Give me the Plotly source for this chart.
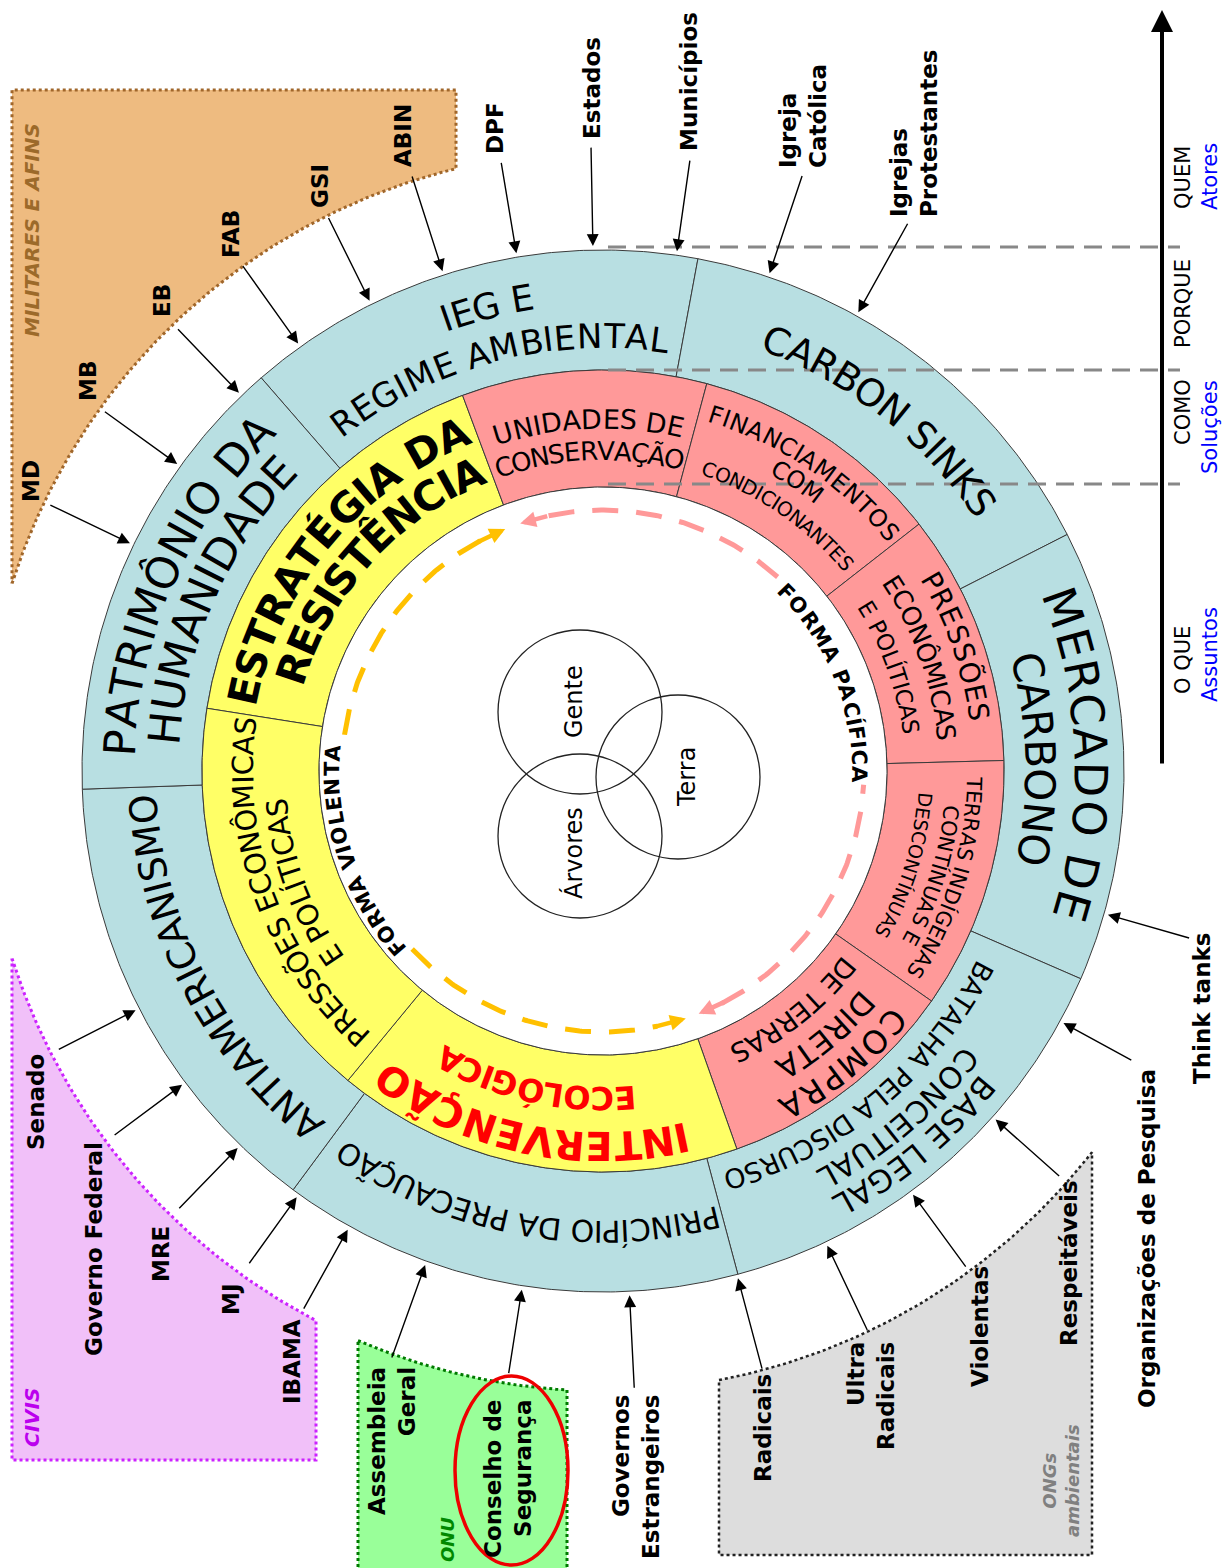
import unicodedata
import numpy as np
import plotly.graph_objects as go

# ======================= DATA =======================
# outer ring (assuntos), listed clockwise, with start boundary angles (deg, math convention)
outer_sectors = ["IEG E REGIME AMBIENTAL", "CARBON SINKS", "MERCADO DE CARBONO",
                 "BATALHA PELA DISCURSO CONCEITUAL BASE LEGAL", "PRINCÍPIO DA PRECAUÇÃO",
                 "ANTIAMERICANISMO", "PATRIMÔNIO DA HUMANIDADE"]
outer_bounds = [131, 79.5, 27, -23.5, -75, -126.5, -178]

# middle ring (soluções)
middle_sectors = ["ESTRATÉGIA DA RESISTÊNCIA", "UNIDADES DE CONSERVAÇÃO",
                  "FINANCIAMENTOS COM CONDICIONANTES", "PRESSÕES ECONÔMICAS E POLÍTICAS",
                  "TERRAS INDÍGENAS CONTÍNUAS E DESCONTÍNUAS", "COMPRA DIRETA DE TERRAS",
                  "INTERVENÇÃO ECOLÓGICA", "PRESSÕES ECONÔMICAS E POLÍTICAS"]
middle_bounds = [171, 110.5, 75, 38, 1.5, -35, -70.5, -129.5]
middle_kind = ["violenta", "pacifica", "pacifica", "pacifica", "pacifica", "pacifica",
               "violenta", "violenta"]

# core
venn_labels = ["Gente", "Terra", "Árvores"]
forma_labels = ["FORMA VIOLENTA", "FORMA PACÍFICA"]

# actors (quem) and the angle where their arrow meets the ring
actors = ["MD", "MB", "EB", "FAB", "GSI", "ABIN", "DPF", "Estados", "Municípios",
          "Igreja<br>Católica", "Igrejas<br>Protestantes", "Think tanks",
          "Organizações de Pesquisa", "Respeitáveis", "Violentas", "Ultra<br>Radicais",
          "Radicais", "Governos<br>Estrangeiros", "Conselho de<br>Segurança",
          "Assembleia<br>Geral", "IBAMA", "MJ", "MRE", "Governo Federal", "Senado"]
actor_angle = [154.3, 144.2, 133.9, 125.5, 116.4, 107.8, 99.5, 91.1, 81.9, 71.5, 60.9,
               -15.9, -28.7, -41.6, -53.8, -64.7, -75.1, -87.1, -98.9, -109.8, -119.1,
               -125.7, -134.1, -143.3, -152.9]

groups = ["MILITARES E AFINS", "CIVIS", "ONU", "ONGs<br>ambientais"]

axis_levels = ["QUEM", "PORQUE", "COMO", "O QUE"]
axis_sub = ["Atores", "", "Soluções", "Assuntos"]

# ======================= LAYOUT / STYLE =======================
W, H = 1232, 1568
CX, CY = 603, 771
R_OUT, R_MID, R_IN = 521, 401, 284
R_TIP = 525
R_GROUP = 620
R_DASH = 261
FONT = "DejaVu Sans"
BLACK, RED = "black", "#FF0000"
C_BLUE, C_YELLOW, C_PINK = "#B8DFE2", "#FFFF66", "#FF9999"
C_ARC_Y, C_ARC_P = "#FFC000", "#FF9999"

CHAR_W = {'A': .684, 'B': .686, 'C': .698, 'D': .770, 'E': .632, 'F': .575, 'G': .775,
          'H': .752, 'I': .295, 'J': .295, 'K': .656, 'L': .557, 'M': .863, 'N': .748,
          'O': .787, 'P': .603, 'Q': .787, 'R': .695, 'S': .635, 'T': .611, 'U': .732,
          'V': .684, 'W': .989, 'X': .685, 'Y': .611, 'Z': .685, ' ': .318}


def cw(ch):
    base = unicodedata.normalize("NFD", ch)[0].upper()
    return CHAR_W.get(base, 0.65)


# text lines on the rings: text, radius, centre angle, c2c span (deg), size, bold, colour
ring_text = [
    ("IEG E", 479, 104.4, 9.4, 36, False, BLACK),
    ("REGIME AMBIENTAL", 435, 104.6, 44.0, 34, False, BLACK),
    ("CARBON SINKS", 463, 51.7, 32.6, 38, False, BLACK),
    ("MERCADO DE", 488, 1.75, 35.5, 46, False, BLACK),
    ("CARBONO", 437, 1.7, 24.2, 42, False, BLACK),
    ("BASE LEGAL", 495, -50.5, 20.9, 31, False, BLACK),
    ("CONCEITUAL", 463, -49.8, 22.4, 30, False, BLACK),
    ("BATALHA PELA DISCURSO", 428, -50.0, 44.0, 27, False, BLACK),
    ("PRINCÍPIO DA PRECAUÇÃO", 460, -100.0, 47.0, 30, False, BLACK),
    ("ANTIAMERICANISMO", 460, -152.5, 45.4, 38, False, BLACK),
    ("PATRIMÔNIO DA", 484, 156.2, 40.8, 44, False, BLACK),
    ("HUMANIDADE", 440, 155.9, 37.1, 44, False, BLACK),
    ("ESTRATÉGIA DA", 367, 140.75, 53.3, 41, True, BLACK),
    ("RESISTÊNCIA", 325, 138.1, 47.0, 41, True, BLACK),
    ("UNIDADES DE", 352, 92.3, 28.5, 27, False, BLACK),
    ("CONSERVAÇÃO", 320, 92.6, 31.0, 26, False, BLACK),
    ("FINANCIAMENTOS", 373, 56.1, 32.4, 24, False, BLACK),
    ("COM", 349, 56.3, None, 24, False, BLACK),
    ("CONDICIONANTES", 319, 55.6, 30.0, 20, False, BLACK),
    ("PRESSÕES", 380, 19.4, 21.0, 28, False, BLACK),
    ("ECONÔMICAS", 345, 19.5, 26.3, 26, False, BLACK),
    ("E POLÍTICAS", 310, 19.8, 23.4, 23, False, BLACK),
    ("TERRAS INDÍGENAS", 371, -17.2, 30.7, 21, False, BLACK),
    ("CONTÍNUAS E", 350, -17.6, 21.5, 21, False, BLACK),
    ("DESCONTÍNUAS", 323, -17.5, 24.6, 19, False, BLACK),
    ("COMPRA", 383, -50.7, 19.6, 32, False, BLACK),
    ("DIRETA", 348, -50.1, 15.6, 31, False, BLACK),
    ("DE TERRAS", 312, -51.7, 24.6, 27, False, BLACK),
    ("PRESSÕES ECONÔMICAS", 360, 200.0, 54.3, 29, False, BLACK),
    ("E POLÍTICAS", 328, 200.25, 27.7, 29, False, BLACK),
    ("INTERVENÇÃO", 375, -101.0, 46.0, 40, True, RED),
    ("ECOLÓGICA", 327, -102.0, 31.9, 32, True, RED),
    (forma_labels[0], 271, 198.4, 44.6, 21, True, BLACK),
    (forma_labels[1], 256, 21.75, 45.3, 21, True, BLACK),
]

# actor label placement (screen px), tail radius and alignment
actor_tail_r = [615, 616, 615, 622, 619, 626, 618, 625, 618, 629, 628, 611, 604, 612, 616,
                620, 620, 619, 611, 625, 617, 608, 611, 611, 613]
actor_pos = [(31, 481), (88, 381), (162, 301), (231, 234), (320, 186), (403, 136), (495, 128),
             (592, 88), (689, 82), (803, 116), (914, 134), (1202, 1008), (1147, 1239),
             (1069, 1263), (980, 1327), (871, 1396), (763, 1428), (636, 1477), (508, 1479),
             (392, 1441), (292, 1362), (231, 1300), (161, 1254), (94, 1249), (36, 1102)]
actor_align = {"Igreja<br>Católica": "left", "Igrejas<br>Protestantes": "left",
               "Ultra<br>Radicais": "right", "Governos<br>Estrangeiros": "right",
               "Conselho de<br>Segurança": "right", "Assembleia<br>Geral": "right"}

# ======================= HELPERS =======================
traces, annotations, shapes = [], [], []


def pol(r, a):
    t = np.radians(a)
    return CX + r * np.cos(t), CY - r * np.sin(t)


def arc_pts(r, a0, a1):
    n = max(10, int(abs(a1 - a0) * 2))
    t = np.radians(np.linspace(a0, a1, n))
    return CX + r * np.cos(t), CY - r * np.sin(t)


def sector(r0, r1, a0, a1, color):
    xo, yo = arc_pts(r1, a0, a1)
    xi, yi = arc_pts(r0, a1, a0)
    x = np.r_[xo, xi, xo[0]]
    y = np.r_[yo, yi, yo[0]]
    traces.append(go.Scatter(x=x, y=y, mode="lines", fill="toself", fillcolor=color,
                             line=dict(color="#3a3a3a", width=1), hoverinfo="skip"))


def add_text(x, y, text, size, angle=0, color=BLACK, bold=False, italic=False, align="center"):
    annotations.append(dict(x=x, y=y, xref="x", yref="y", text=text, showarrow=False,
                            textangle=angle, align=align, xanchor="center", yanchor="middle",
                            font=dict(family=FONT, size=size, color=color,
                                      weight="bold" if bold else "normal",
                                      style="italic" if italic else "normal")))


def add_arrow(x0, y0, x1, y1, color=BLACK, width=1.4, size=1.7):
    annotations.append(dict(x=x1, y=y1, ax=x0, ay=y0, xref="x", yref="y", axref="x",
                            ayref="y", text="", showarrow=True, arrowhead=2,
                            arrowsize=size, arrowwidth=width, arrowcolor=color, standoff=0))


def arc_text(text, r, theta, span, size, bold, color):
    f = 1.08 if bold else 1.0
    w = np.array([cw(c) * f for c in text])
    s = np.cumsum(np.r_[0, w[:-1]]) + w / 2
    mid = (s[0] + s[-1]) / 2
    if span is None or len(text) == 1:
        k = size / r
    else:
        k = np.radians(span) / (s[-1] - s[0])
    for c, si in zip(text, s):
        if c == " ":
            continue
        phi = np.radians(theta) - (si - mid) * k
        x = CX + r * np.cos(phi)
        y = CY - r * np.sin(phi)
        add_text(x, y, c, size, angle=90 - np.degrees(phi), color=color, bold=bold)


def region(x_a, x_b, upper, box_pts, fill, line_color, lw=3):
    """Region bounded by a concentric arc between x=x_a and x=x_b plus box corners."""
    sgn = 1 if upper else -1
    a0 = sgn * np.degrees(np.arccos((x_a - CX) / R_GROUP))
    a1 = sgn * np.degrees(np.arccos((x_b - CX) / R_GROUP))
    xs, ys = arc_pts(R_GROUP, a0, a1)
    bx = [p[0] for p in box_pts]
    by = [p[1] for p in box_pts]
    x = np.r_[xs, bx, xs[0]]
    y = np.r_[ys, by, ys[0]]
    traces.append(go.Scatter(x=x, y=y, mode="lines", fill="toself", fillcolor=fill,
                             line=dict(color=line_color, width=lw, dash="dot"),
                             hoverinfo="skip"))


# ======================= GROUP REGIONS =======================
region(12, 456, True, [(456, 90), (12, 90)], "#EEBB80", "#A0662A")
region(12, 316, False, [(316, 1460), (12, 1460)], "#F1C0F9", "#CC22FF")
region(358, 567, False, [(567, 1620), (358, 1620)], "#99FF99", "#007A00")
region(719, 1092, False, [(1092, 1555), (719, 1555)], "#DDDDDD", "#222222", lw=2.5)

# ======================= RINGS =======================
nb = len(outer_bounds)
for i in range(nb):
    a0 = outer_bounds[i]
    a1 = outer_bounds[i + 1] if i + 1 < nb else outer_bounds[0] - 360
    sector(R_MID, R_OUT, a0, a1, C_BLUE)

nm = len(middle_bounds)
for i in range(nm):
    a0 = middle_bounds[i]
    a1 = middle_bounds[i + 1] if i + 1 < nm else middle_bounds[0] - 360
    sector(R_IN, R_MID, a0, a1, C_YELLOW if middle_kind[i] == "violenta" else C_PINK)

# inner white disc outline
xc, yc = arc_pts(R_IN, 0, 360)
traces.append(go.Scatter(x=xc, y=yc, mode="lines", fill="toself", fillcolor="white",
                         line=dict(color="#3a3a3a", width=1), hoverinfo="skip"))

# dashed circulation arcs (violenta = yellow on the left, pacífica = pink on the right)
for a0, a1, col in [(118, 174, C_ARC_Y), (223, 282, C_ARC_Y),
                    (-63, -3, C_ARC_P), (48, 103, C_ARC_P)]:
    xs, ys = arc_pts(R_DASH, a0, a1)
    traces.append(go.Scatter(x=xs, y=ys, mode="lines",
                             line=dict(color=col, width=5, dash="26px,18px"),
                             hoverinfo="skip"))
for a_from, a_to, col in [(119, 112, C_ARC_Y), (281, 288.5, C_ARC_Y),
                          (102, 108.5, C_ARC_P), (-62, -68.5, C_ARC_P)]:
    x0, y0 = pol(R_DASH, a_from)
    x1, y1 = pol(R_DASH, a_to)
    add_arrow(x0, y0, x1, y1, color=col, width=4.5, size=0.7)

# ring labels
for t in ring_text:
    arc_text(*t)

# ======================= VENN =======================
venn_off = [(-23, -59), (75, 6), (-23, 65)]
venn_text_off = [(-29, -69), (84, 6), (-30, 82)]
for lab, (dx, dy), (tx, ty) in zip(venn_labels, venn_off, venn_text_off):
    shapes.append(dict(type="circle", xref="x", yref="y", x0=CX + dx - 82, x1=CX + dx + 82,
                       y0=CY + dy - 82, y1=CY + dy + 82, line=dict(color="#222", width=1.3),
                       layer="above"))
    add_text(CX + tx, CY + ty, lab, 24, angle=-90)

# ======================= ACTORS =======================
for name, ang, rt, (lx, ly) in zip(actors, actor_angle, actor_tail_r, actor_pos):
    x0, y0 = pol(rt, ang)
    x1, y1 = pol(R_TIP, ang)
    add_arrow(x0, y0, x1, y1)
    add_text(lx, ly, name, 23, angle=-90, bold=True, align=actor_align.get(name, "center"))

# group titles
add_text(32, 230, groups[0], 20, angle=-90, color="#9C6A2A", bold=True, italic=True)
add_text(32, 1418, groups[1], 20, angle=-90, color="#BB00EE", bold=True, italic=True)
add_text(447, 1540, groups[2], 18, angle=-90, color="#008800", bold=True, italic=True)
add_text(1061, 1481, groups[3], 18, angle=-90, color="#808080", bold=True, italic=True)

# red ellipse around Conselho de Segurança
shapes.append(dict(type="circle", xref="x", yref="y", x0=455, x1=568, y0=1376, y1=1565,
                   line=dict(color="#EE0000", width=3.5), layer="above"))

# ======================= AXIS (QUEM / PORQUE / COMO / O QUE) =======================
AX_X = 1162
for r in (R_OUT + 3, R_MID, R_IN + 3):
    traces.append(go.Scatter(x=[CX + 5, AX_X + 18], y=[CY - r, CY - r], mode="lines",
                             line=dict(color="#888888", width=3, dash="18px,10px"),
                             hoverinfo="skip"))
add_arrow(AX_X, 765, AX_X, 10, width=4, size=1.1)
lvl_y = [178, 304, 412, 660]
sub_y = [177, 0, 427, 655]
for lv, sb, y1, y2 in zip(axis_levels, axis_sub, lvl_y, sub_y):
    add_text(1183, y1, lv, 21, angle=-90)
    if sb:
        add_text(1210, y2, sb, 21, angle=-90, color="#0000FF")

# ======================= FIGURE =======================
fig = go.Figure(traces)
fig.update_layout(
    width=W, height=H, margin=dict(l=0, r=0, t=0, b=0),
    paper_bgcolor="white", plot_bgcolor="white", showlegend=False, hovermode=False,
    xaxis=dict(range=[0, W], visible=False, fixedrange=True),
    yaxis=dict(range=[H, 0], visible=False, fixedrange=True),
    annotations=annotations, shapes=shapes,
)
fig.write_html("out.html", config={"displayModeBar": False},
               post_script="document.body.style.margin='0';")
